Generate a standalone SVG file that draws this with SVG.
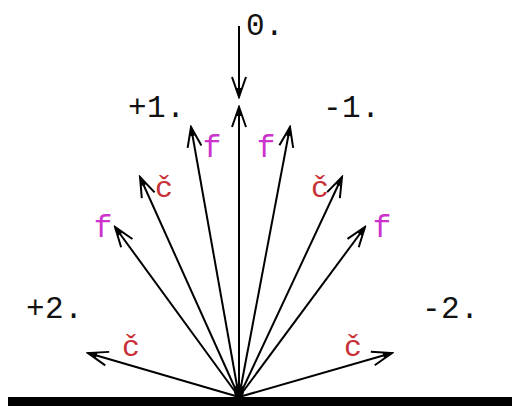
<svg xmlns="http://www.w3.org/2000/svg" width="512" height="406" viewBox="0 0 512 406">
<style>
.num{font-family:"Liberation Mono","DejaVu Sans Mono",monospace;font-size:31px;fill:#111;letter-spacing:0.5px}
.f{font-family:"Liberation Mono","DejaVu Sans Mono",monospace;font-size:31px;fill:#cc33cc;text-anchor:middle}
.c{font-family:"Liberation Mono","DejaVu Sans Mono",monospace;font-size:30px;fill:#c83038;text-anchor:middle}
.ln{stroke:#000;stroke-width:2;fill:none;marker-end:url(#arr)}
</style>
<defs>
<marker id="arr" viewBox="-22 -9 24 18" markerWidth="24" markerHeight="18" refX="0" refY="0" orient="auto" markerUnits="userSpaceOnUse">
<path d="M-20,-7 L0,0 L-20,7" fill="none" stroke="#000" stroke-width="2"/>
<path d="M-9,-2.5 L0,0 L-9,2.5 Z" fill="#000"/>
</marker>
</defs>
<rect x="0" y="0" width="512" height="406" fill="#fff"/>
<g id="ground">
<rect x="8" y="397" width="504" height="9" fill="#000"/>
<ellipse cx="239" cy="391" rx="5" ry="7" fill="#000"/>
</g>
<g id="connectors">
<line class="ln" x1="239" y1="26" x2="239" y2="97"/>
<line class="ln" x1="239" y1="397" x2="239" y2="107"/>
<line class="ln" x1="239" y1="397" x2="191" y2="127"/>
<line class="ln" x1="239" y1="397" x2="290" y2="127"/>
<line class="ln" x1="239" y1="397" x2="140" y2="177"/>
<line class="ln" x1="239" y1="397" x2="342" y2="177"/>
<line class="ln" x1="239" y1="397" x2="115" y2="227"/>
<line class="ln" x1="239" y1="397" x2="365" y2="227"/>
<line class="ln" x1="239" y1="397" x2="88" y2="353"/>
<line class="ln" x1="239" y1="397" x2="392" y2="353"/>
</g>
<g id="label-0"><text class="num" x="246" y="35">0.</text></g>
<g id="label-p1"><text class="num" x="128" y="117">+1.</text></g>
<g id="label-m1"><text class="num" x="323" y="117">-1.</text></g>
<g id="label-p2"><text class="num" x="26" y="318">+2.</text></g>
<g id="label-m2"><text class="num" x="422" y="318">-2.</text></g>
<g id="labels-f">
<text class="f" x="212" y="157">f</text>
<text class="f" x="266" y="157">f</text>
<text class="f" x="103" y="237">f</text>
<text class="f" x="382" y="237">f</text>
</g>
<g id="labels-c">
<text class="c" x="164" y="197">č</text>
<text class="c" x="320" y="197">č</text>
<text class="c" x="131" y="356">č</text>
<text class="c" x="353" y="356">č</text>
</g>
</svg>
